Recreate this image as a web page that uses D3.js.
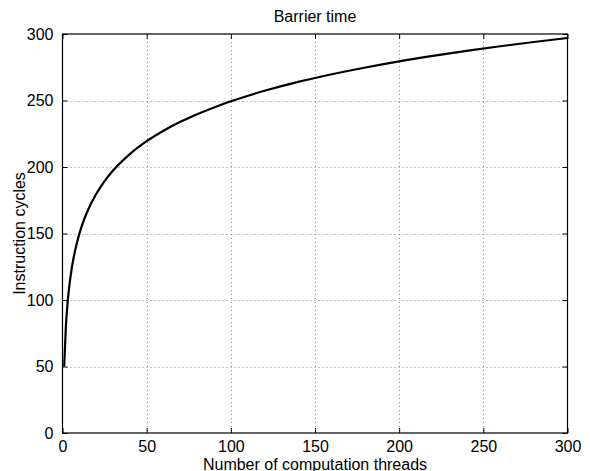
<!DOCTYPE html>
<html><head><meta charset="utf-8">
<script src="https://cdn.jsdelivr.net/npm/d3@7"></script>
<style>body{margin:0;background:#fff}svg{display:block}text{font-family:Arial,"Liberation Sans",Helvetica,sans-serif}</style>
</head><body><svg id="c" width="590" height="471"></svg>
<script>
const threads = [1,2,3,4,5,6,8,10,12,15,20,25,30,40,50,60,70,80,90,100,120,140,160,180,200,220,240,260,280,300];
const cycles  = [50,80,97.5,110,119.7,127.6,140,149.7,157.6,167.3,179.7,189.4,197.3,209.7,219.4,227.3,234,239.7,244.8,249.4,257.3,264,269.7,274.8,279.4,283.5,287.3,290.8,294,297];
const xTicks = [0,50,100,150,200,250,300];
const yTicks = [0,50,100,150,200,250,300];
const title = "Barrier time";
const xLabel = "Number of computation threads";
const yLabel = "Instruction cycles";

const svg = d3.select("#c");
const L=62.5, R=567.5, T=34, B=433;
const x = d3.scaleLinear().domain([0,300]).range([L,R]);
const y = d3.scaleLinear().domain([0,300]).range([B,T]);
const fs = 16;

// grid
const g = svg.append("g");
g.selectAll(".gx").data(xTicks.slice(1,-1)).join("line")
  .attr("x1",d=>Math.round(x(d))+0.5).attr("x2",d=>Math.round(x(d))+0.5).attr("y1",T).attr("y2",B)
  .attr("stroke","#888").attr("stroke-dasharray","1,3");
g.selectAll(".gy").data(yTicks.slice(1,-1)).join("line")
  .attr("y1",d=>Math.round(y(d))+0.5).attr("y2",d=>Math.round(y(d))+0.5).attr("x1",L).attr("x2",R)
  .attr("stroke","#888").attr("stroke-dasharray","1,3");

// axes with inward ticks
const ax = svg.append("g").attr("transform",`translate(0,${B})`).call(d3.axisBottom(x).tickValues(xTicks).tickSizeInner(-5).tickSizeOuter(0).tickPadding(7.5));
const axT = svg.append("g").attr("transform",`translate(0,${T})`).call(d3.axisTop(x).tickValues(xTicks).tickSizeInner(-5).tickSizeOuter(0).tickFormat(""));
const ay = svg.append("g").attr("transform",`translate(${L},0)`).call(d3.axisLeft(y).tickValues(yTicks).tickSizeInner(-5).tickSizeOuter(0).tickPadding(9));
const ayR = svg.append("g").attr("transform",`translate(${R},0)`).call(d3.axisRight(y).tickValues(yTicks).tickSizeInner(-5).tickSizeOuter(0).tickFormat(""));
[ax,axT,ay,ayR].forEach(a=>{
  a.select(".domain").remove();
  a.selectAll("line").attr("stroke","#000");
  a.selectAll("text").attr("font-size",fs).attr("fill","#000").attr("font-family","Arial, 'Liberation Sans', sans-serif");
});
ax.selectAll("text").attr("dy","0.71em");

// box
svg.append("rect").attr("x",L).attr("y",T).attr("width",R-L).attr("height",B-T)
  .attr("fill","none").attr("stroke","#000").attr("stroke-width",1.2);

// curve
const line = d3.line().x((d,i)=>x(threads[i])).y(d=>y(d)).curve(d3.curveMonotoneX);
svg.append("path").attr("d",line(cycles)).attr("fill","none").attr("stroke","#000").attr("stroke-width",2.2);

// labels
svg.append("text").attr("x",(L+R)/2).attr("y",21.5).attr("text-anchor","middle").attr("font-size",fs).text(title);
svg.append("text").attr("x",(L+R)/2).attr("y",469.5).attr("text-anchor","middle").attr("font-size",fs).text(xLabel);
svg.append("text").attr("transform",`translate(25,${(T+B)/2}) rotate(-90)`).attr("text-anchor","middle").attr("font-size",fs).text(yLabel);
</script></body></html>
